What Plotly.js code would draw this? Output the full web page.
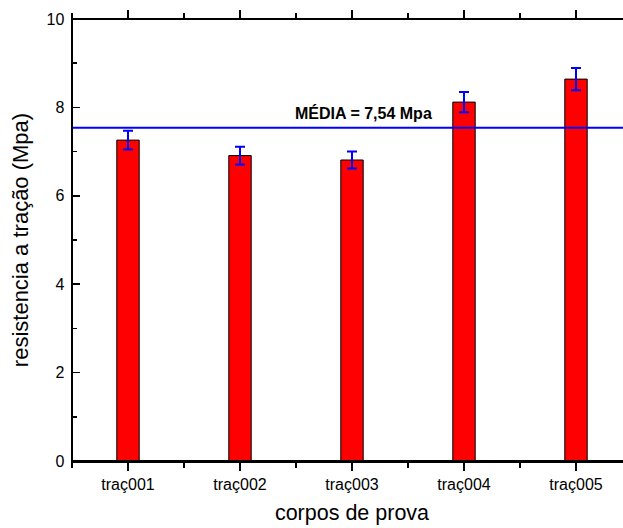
<!DOCTYPE html>
<html>
<head>
<meta charset="utf-8">
<script src="https://cdn.plot.ly/plotly-3.0.1.min.js"></script>
<style>
html,body{margin:0;padding:0;overflow:hidden;background:#fff;width:623px;height:528px;}
#wrap{position:relative;width:640px;height:528px;}
#chart{position:absolute;left:0;top:0;width:640px;height:528px;}
#frame{position:absolute;left:71px;top:18px;width:562px;height:444px;box-sizing:border-box;border:2px solid #000;pointer-events:none;}
</style>
</head>
<body>
<div id="wrap">
<div id="chart"></div>
<div id="frame"></div>
</div>
<script>
const categories = ['traç001','traç002','traç003','traç004','traç005'];
const values = [7.26, 6.91, 6.81, 8.12, 8.64];
const errors = [0.21, 0.20, 0.19, 0.23, 0.25];
const meanValue = 7.54;
const yTicks = [0, 2, 4, 6, 8, 10];

const xIdx = categories.map((c, i) => i);
const FONT = 'Arial, "Liberation Sans", sans-serif';
const xRange = [-0.5, categories.length - 0.5];
const yRange = [yTicks[0], yTicks[yTicks.length - 1]];

const bars = {
  type: 'bar',
  x: xIdx,
  y: values,
  width: 0.2,
  marker: {color: '#ff0000', line: {color: '#000000', width: 1}},
  error_y: {type: 'data', array: errors, visible: true, color: '#0000ff', thickness: 2, width: 5},
  hoverinfo: 'skip',
  showlegend: false
};

const meanTxt = 'MÉDIA = ' + meanValue.toFixed(2).replace('.', ',') + ' Mpa';

const layout = {
  width: 640, height: 528,
  margin: {l: 72, r: 8, t: 19, b: 67},
  paper_bgcolor: '#ffffff', plot_bgcolor: '#ffffff',
  font: {family: FONT, color: '#000000'},
  showlegend: false,
  xaxis: {
    range: xRange,
    tickmode: 'array', tickvals: xIdx, ticktext: categories,
    ticks: 'outside', ticklen: 8, tickwidth: 1.5, tickcolor: '#000',
    minor: {tick0: 0.5, dtick: 1, ticks: 'outside', ticklen: 5, tickwidth: 1.5, tickcolor: '#000'},
    showline: true, linecolor: '#000', linewidth: 1.5, mirror: 'allticks',
    showgrid: false, zeroline: false,
    tickfont: {size: 16, family: FONT, color: '#000'},
    title: {text: 'corpos de prova', font: {size: 21.5, family: FONT, color: '#000'}, standoff: 13}
  },
  yaxis: {
    range: yRange,
    tickmode: 'array', tickvals: yTicks,
    ticks: 'inside', ticklen: 8, tickwidth: 1.5, tickcolor: '#000',
    minor: {tick0: 1, dtick: 2, ticks: 'inside', ticklen: 5, tickwidth: 1.5, tickcolor: '#000'},
    showline: true, linecolor: '#000', linewidth: 1.5, mirror: 'allticks',
    showgrid: false, zeroline: false,
    tickfont: {size: 16, family: FONT, color: '#000'},
    ticklabelstandoff: 3,
    title: {text: 'resistencia a tração (Mpa)', font: {size: 22, family: FONT, color: '#000'}, standoff: 12}
  },
  shapes: [
    {type: 'line', xref: 'paper', x0: 0, x1: 1, yref: 'y', y0: meanValue, y1: meanValue,
     line: {color: '#0000ff', width: 2}}
  ],
  annotations: [{
    text: '<b>' + meanTxt + '</b>', xref: 'x', yref: 'y', x: 2.1, y: meanValue,
    xanchor: 'center', yanchor: 'bottom', yshift: 4, showarrow: false,
    font: {size: 16, family: FONT, color: '#000'}
  }]
};

Plotly.newPlot('chart', [bars], layout, {staticPlot: true});
</script>
</body>
</html>
